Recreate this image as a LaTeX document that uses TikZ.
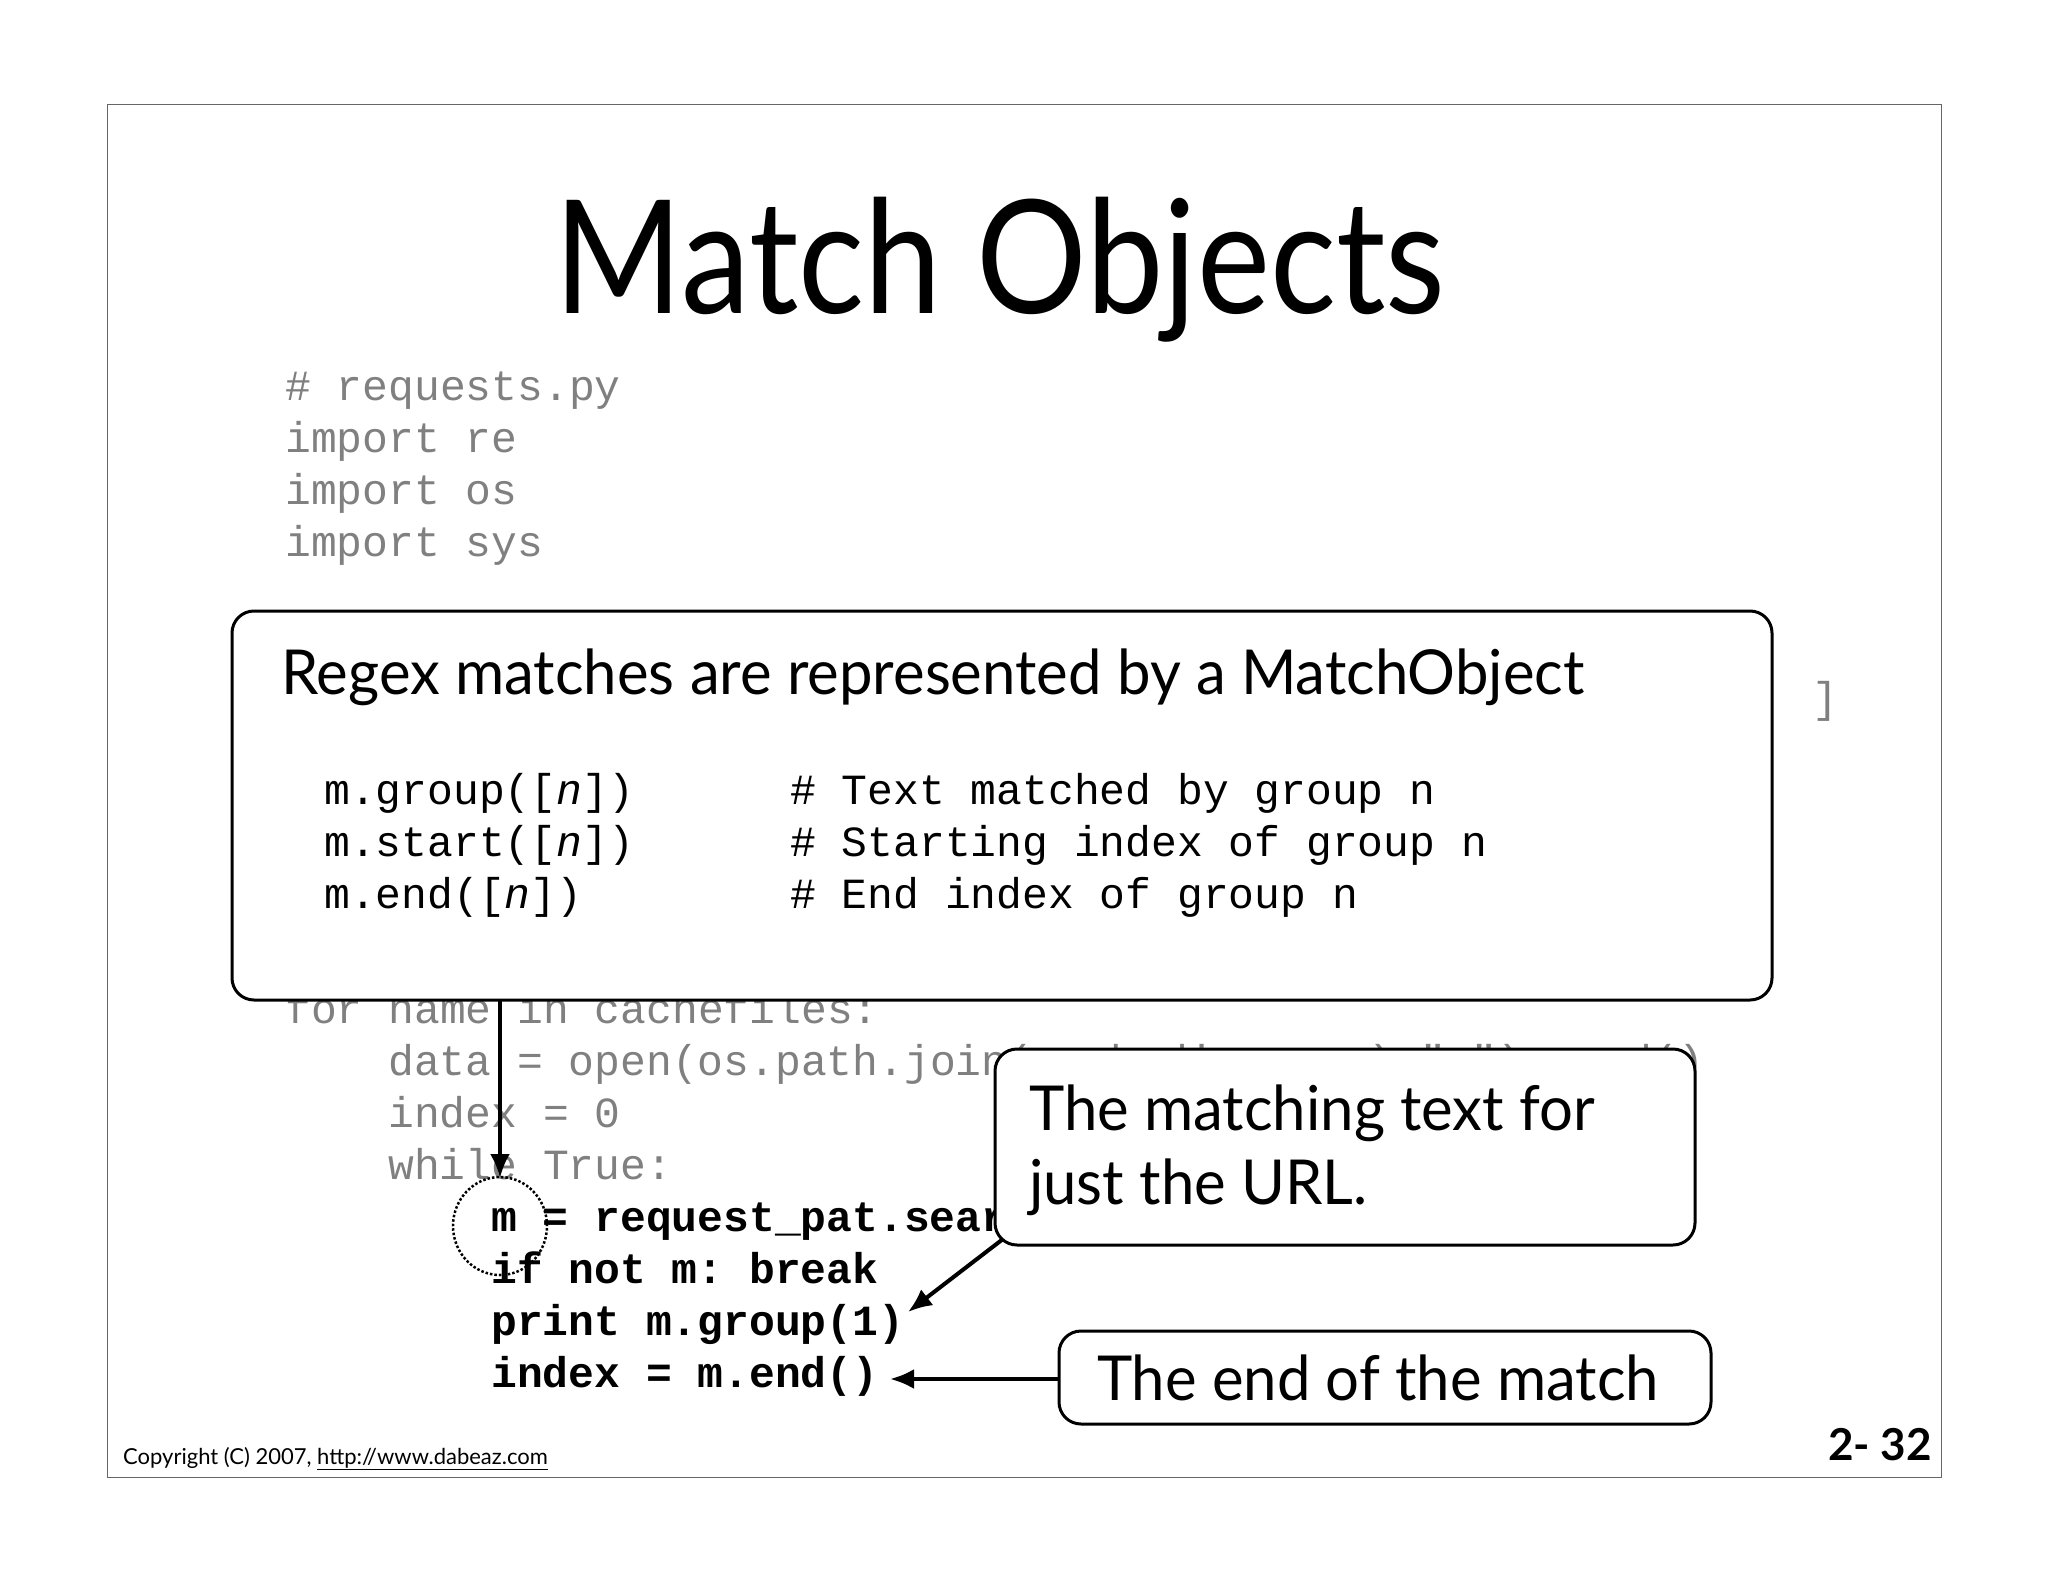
\documentclass[tikz,border=0pt]{standalone}
\usepackage{fontspec}
\usetikzlibrary{arrows.meta}
\setmainfont{Lato}
\setmonofont{Liberation Mono}
\begin{document}
\begin{tikzpicture}[x=1pt,y=-1pt,
  gcode/.style={anchor=base west,inner sep=0,text=black!50,font=\fontsize{43}{43}\ttfamily},
  bcode/.style={anchor=base west,inner sep=0,text=black,font=\fontsize{43}{43}\ttfamily\bfseries},
  kcode/.style={anchor=base west,inner sep=0,text=black,font=\fontsize{43}{43}\ttfamily},
  callout/.style={draw=black,line width=3pt,rounded corners=22pt,fill=white},
  ctext/.style={inner sep=0,font=\fontsize{62}{62}\selectfont,xscale=0.965},
  arr/.style={-{Latex[length=24pt,width=20pt]},line width=4pt}]
\useasboundingbox (0,0) rectangle (2048,1582);
\fill[white] (0,0) rectangle (2048,1582);
\draw[line width=1pt,black!60] (107,104) rectangle (1941,1477);
\node[anchor=base,inner sep=0,font=\fontsize{158}{158}\selectfont,xscale=0.875] (title) at (1000,313) {Match Objects};
% gray code
\node[gcode] (l1) at (285,400) {\# requests.py};
\node[gcode] (l2) at (285,452) {import re};
\node[gcode] (l3) at (285,504) {import os};
\node[gcode] (l4) at (285,556) {import sys};
\node[gcode] (l5) at (1812,712) {]};
\node[gcode] (l6) at (285,1023) {for name in cachefiles:};
\node[gcode] (l7) at (388,1075) {data = open(os.path.join(cachedir,name),"r").read()};
\node[gcode] (l8) at (388,1127) {index = 0};
\node[gcode] (l9) at (388,1179) {while True:};
\node[bcode] (b1) at (491,1231) {m = request\_pat.search(data,index)};
\node[bcode] (b2) at (491,1283) {if not m: break};
\node[bcode] (b3) at (491,1335) {print m.group(1)};
\node[bcode] (b4) at (491,1387) {index = m.end()};
% big callout
\draw[callout] (232,611) rectangle (1772,1000);
\node[ctext,anchor=base west] (h) at (281,694) {Regex matches are represented by a MatchObject};
\node[kcode] (c1) at (324,804) {m.group([\textit{n}])};
\node[kcode] (c2) at (324,856) {m.start([\textit{n}])};
\node[kcode] (c3) at (324,908) {m.end([\textit{n}])};
\node[kcode] (d1) at (790,804) {\# Text matched by group n};
\node[kcode] (d2) at (790,856) {\# Starting index of group n};
\node[kcode] (d3) at (790,908) {\# End index of group n};
\coordinate (vtop) at (500,1000);
\coordinate (vbot) at (500,1178);
\draw[dotted,line width=2.5pt] (500,1226) ellipse (47pt and 49pt);
\draw[arr] (vtop) -- (vbot);
% callout 2
\draw[callout] (995,1049) rectangle (1695,1245);
\node[ctext,anchor=base west] (t2a) at (1029,1130) {The matching text for};
\node[ctext,anchor=base west] (t2b) at (1029,1204) {just the URL.};
\coordinate (a2s) at (1003,1239);
\coordinate (a2e) at (908,1312);
\draw[arr] (a2s) -- (a2e);
% callout 3
\draw[callout] (1059,1331) rectangle (1711,1424);
\node[ctext,anchor=base] (t3) at (1378,1400) {The end of the match};
\coordinate (a3s) at (1059,1379);
\coordinate (a3e) at (890,1379);
\draw[arr] (a3s) -- (a3e);
% footer
\node[anchor=base west,inner sep=0,font=\fontsize{22}{22}\selectfont] (foot) at (123,1464) {Copyright (C) 2007, \underline{http://www.dabeaz.com}};
\node[anchor=base east,inner sep=0,font=\fontsize{44}{44}\selectfont\bfseries] (pg) at (1932,1460) {2- 32};
\end{tikzpicture}
\end{document}
